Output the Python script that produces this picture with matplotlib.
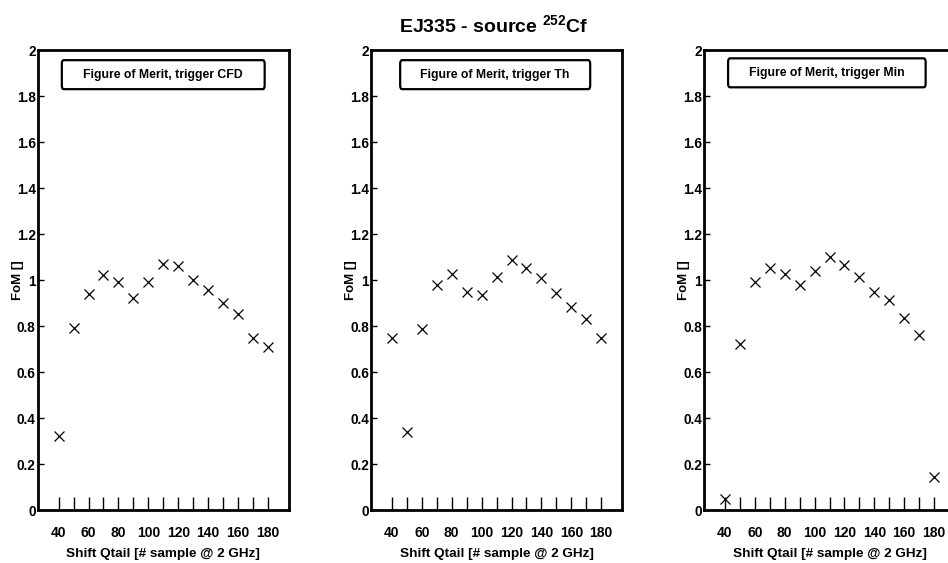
import numpy as np
import matplotlib
matplotlib.use("Agg")
from matplotlib import pyplot as plt
from matplotlib.patches import FancyBboxPatch

# shift of the Qtail window (samples @ 2 GHz)
shift = [40, 50, 60, 70, 80, 90, 100, 110, 120, 130, 140, 150, 160, 170, 180]

# figure of merit for the three trigger types
fom_cfd = [0.32, 0.79, 0.94, 1.02, 0.99, 0.92, 0.99, 1.07, 1.06, 1.00, 0.956, 0.90, 0.854, 0.748, 0.71]
fom_th = [0.747, 0.34, 0.789, 0.977, 1.028, 0.95, 0.934, 1.014, 1.089, 1.053, 1.008, 0.945, 0.883, 0.831, 0.75]
fom_min = [0.047, 0.721, 0.992, 1.051, 1.025, 0.977, 1.04, 1.101, 1.064, 1.012, 0.95, 0.913, 0.836, 0.76, 0.145]

legend_txt = ["Figure of Merit, trigger CFD",
              "Figure of Merit, trigger Th",
              "Figure of Merit, trigger Min"]

yticks = np.arange(0, 2.01, 0.2)
ytick_labels = ["0", "0.2", "0.4", "0.6", "0.8", "1", "1.2", "1.4", "1.6", "1.8", "2"]
xticks = np.arange(40, 181, 10)
xtick_labels = [str(v) if v % 20 == 0 else "" for v in xticks]

plt.rcParams['font.family'] = 'Liberation Sans'
plt.rcParams['font.weight'] = 'bold'
plt.rcParams['mathtext.fontset'] = 'custom'
plt.rcParams['mathtext.bf'] = 'Liberation Sans:bold'
plt.rcParams['mathtext.rm'] = 'Liberation Sans:bold'

fig = plt.figure(figsize=(9.48, 5.63), dpi=100)

lefts = [0.0398, 0.3914, 0.7426]
boxes = [(0.096, 0.904, 0.915, 0.978),
         (0.116, 0.873, 0.915, 0.978),
         (0.096, 0.883, 0.919, 0.982)]
series = [fom_cfd, fom_th, fom_min]

for i in range(3):
    ax = fig.add_axes([lefts[i], 0.0941, 0.2648, 0.817])
    ax.plot(shift, series[i], 'x', color='black', ms=7.5, mew=0.9)

    ax.set_xlim(26, 194)
    ax.set_ylim(0, 2)
    ax.set_xticks(xticks)
    ax.set_xticklabels(xtick_labels)
    ax.set_yticks(yticks)
    ax.set_yticklabels(ytick_labels)
    ax.tick_params(axis='x', direction='in', length=9.5, width=1.0, pad=11.5, labelsize=10)
    ax.tick_params(axis='y', direction='in', length=4.5, width=1.0, pad=1.5, labelsize=9.8)
    for s in ax.spines.values():
        s.set_linewidth(2.0)

    ax.set_xlabel("Shift Qtail [# sample @ 2 GHz]", fontsize=9.7, fontweight='bold', labelpad=6)
    ax.set_ylabel("FoM []", fontsize=9.5, fontweight='bold', va='center')
    ax.yaxis.set_label_coords(-0.079, 0.5)

    # legend box with the trigger name
    x0, x1, y0, y1 = boxes[i]
    box = FancyBboxPatch((x0, y0), x1 - x0, y1 - y0, transform=ax.transAxes,
                         boxstyle='round,pad=0,rounding_size=0.008',
                         fc='white', ec='black', lw=1.6, zorder=5)
    ax.add_patch(box)
    ax.text((x0 + x1) / 2, (y0 + y1) / 2, legend_txt[i], transform=ax.transAxes,
            ha='center', va='center', fontsize=8.8, fontweight='bold', zorder=6)

fig.text(0.521, 0.955, r"EJ335 - source $^{\mathbf{252}}$Cf", ha='center', va='center',
         fontsize=14, fontweight='bold')

plt.savefig('out.png', dpi=100)
plt.close()
